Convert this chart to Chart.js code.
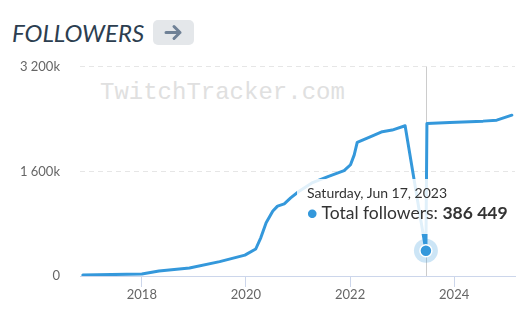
<!DOCTYPE html>
<html>
<head>
<meta charset="utf-8">
<script src="https://cdn.jsdelivr.net/npm/chart.js@4/dist/chart.umd.min.js"></script>
<style>
  html, body { margin: 0; padding: 0; background: #fff; }
  body { width: 530px; height: 313px; position: relative; overflow: hidden; font-family: Lato, sans-serif; }
  .title { position: absolute; left: 12px; top: 19px; font-size: 24px; line-height: 1.2; font-style: italic; color: #2c3e50; }
  .more-btn { position: absolute; left: 153px; top: 20px; width: 41px; height: 25px; border-radius: 5px; background: #e4e7ea; }
  .more-btn svg { position: absolute; left: 11px; top: 4px; }
  .chart-wrap { position: absolute; left: 0; top: 39px; width: 530px; height: 274px; }
  .watermark { position: absolute; left: 100px; top: 42px; font-family: "Liberation Mono", monospace; font-size: 24px; line-height: 24px; color: #e0e0e0; white-space: nowrap; }
  #followersChart { position: relative; }
  #tip { position: absolute; opacity: 0; pointer-events: none; background: rgba(255,255,255,0.85); padding: 5px 10px 10px 10px; color: #333; white-space: nowrap; }
  #tip .t { font-size: 14px; line-height: 18px; }
  #tip .b { font-size: 17.5px; line-height: 22px; }
</style>
</head>
<body>
  <div class="title">FOLLOWERS</div>
  <div class="more-btn">
    <svg width="19" height="17" viewBox="0 0 19 17">
      <path d="M2 8.5 H16 M10 2.5 L16 8.5 L10 14.5" fill="none" stroke="#6f8196" stroke-width="3" stroke-linecap="round" stroke-linejoin="round"/>
    </svg>
  </div>
  <div class="chart-wrap">
    <div class="watermark">TwitchTracker.com</div>
    <canvas id="followersChart" width="530" height="274"></canvas>
    <div id="tip"></div>
  </div>

<script>
// followers over time
const dates = [
  '2016-11-13', '2017-06-01', '2018-01-01', '2018-05-01', '2018-12-01', '2019-07-01', '2019-12-25',
  '2020-03-10', '2020-04-15', '2020-05-22', '2020-07-08', '2020-08-10', '2020-09-26', '2020-11-10',
  '2021-01-08', '2021-04-08', '2021-08-03', '2021-11-20', '2022-01-04', '2022-01-30', '2022-02-20',
  '2022-05-26', '2022-08-15', '2022-10-23', '2023-01-22', '2023-06-17', '2023-06-24', '2023-12-01',
  '2024-07-22', '2024-10-26', '2025-02-09'
];
const followers = [
  15000, 22000, 30000, 75000, 122000, 220000, 320000,
  413000, 588000, 816000, 993000, 1069000, 1104000, 1195000,
  1297000, 1423000, 1524000, 1611000, 1702000, 1853000, 2044000,
  2131000, 2207000, 2232000, 2298000, 386449, 2333000, 2348000,
  2369000, 2384000, 2460000
];
const yearTicks = [2018, 2020, 2022, 2024];
const yTicks = [0, 1600000, 3200000];
const xMin = '2016-10-24';
const xMax = '2025-03-03';
const highlightDate = '2023-06-17';

const lineColor = '#3498db';

function fmtNum(v) {
  return String(v).replace(/\B(?=(\d{3})+(?!\d))/g, ' ');
}

function fmtDate(ms) {
  return new Date(ms).toLocaleDateString('en-US', {
    timeZone: 'UTC', weekday: 'long', month: 'short', day: 'numeric', year: 'numeric'
  });
}

function externalTooltip(context) {
  const { chart, tooltip } = context;
  const el = document.getElementById('tip');
  if (tooltip.opacity === 0 || !tooltip.dataPoints) {
    el.style.opacity = 0;
    return;
  }
  const pt = tooltip.dataPoints[0];
  el.innerHTML = '<div class="t">' + fmtDate(pt.parsed.x) + '</div>' +
    '<div class="b"><span style="color:' + lineColor + '">\u25CF</span> Total followers: <b>' + fmtNum(pt.parsed.y) + '</b></div>';
  el.style.opacity = 1;
  const w = el.offsetWidth, h = el.offsetHeight;
  const left = Math.min(tooltip.caretX - w / 2, chart.width - w - 12);
  el.style.left = left + 'px';
  el.style.top = (tooltip.caretY - h - 17) + 'px';
}

// crosshair + halo behind the hovered point
const hoverMarks = {
  id: 'hoverMarks',
  beforeDatasetsDraw(chart) {
    const act = chart.getActiveElements();
    if (!act.length) return;
    const { ctx, chartArea } = chart;
    const p = act[0].element;
    ctx.save();
    ctx.strokeStyle = '#cccccc';
    ctx.lineWidth = 1;
    const cx = Math.round(p.x) + 0.5;
    ctx.beginPath();
    ctx.moveTo(cx, chartArea.top);
    ctx.lineTo(cx, chartArea.bottom);
    ctx.stroke();
    ctx.fillStyle = 'rgba(52,152,219,0.25)';
    ctx.beginPath();
    ctx.arc(p.x, p.y, 12, 0, Math.PI * 2);
    ctx.fill();
    ctx.restore();
  }
};

const points = dates.map((d, i) => ({ x: Date.parse(d), y: followers[i] }));

const chart = new Chart(document.getElementById('followersChart'), {
  type: 'line',
  data: {
    datasets: [{
      label: 'Total followers',
      data: points,
      borderColor: lineColor,
      borderWidth: 3,
      borderJoinStyle: 'round',
      borderCapStyle: 'round',
      tension: 0,
      fill: false,
      pointRadius: 0,
      pointHoverRadius: 6,
      pointHoverBackgroundColor: lineColor,
      pointHoverBorderColor: '#ffffff',
      pointHoverBorderWidth: 1.5
    }]
  },
  options: {
    responsive: false,
    animation: false,
    events: [],
    layout: { padding: { top: 9, right: 15, left: 0, bottom: 0 } },
    plugins: {
      legend: { display: false },
      tooltip: { enabled: false, external: externalTooltip }
    },
    scales: {
      x: {
        type: 'linear',
        min: Date.parse(xMin),
        max: Date.parse(xMax),
        afterBuildTicks: s => { s.ticks = yearTicks.map(y => ({ value: Date.UTC(y, 0, 1) })); },
        ticks: {
          callback: v => new Date(v).getUTCFullYear(),
          color: '#666666',
          font: { family: 'Lato', size: 13 },
          padding: 0,
          maxRotation: 0
        },
        grid: { drawOnChartArea: false, drawTicks: true, tickLength: 11, color: '#ccd6eb' },
        border: { display: true, color: '#ccd6eb', width: 1 },
        afterFit: s => { s.height = 37; }
      },
      y: {
        min: 0,
        max: 3200000,
        afterBuildTicks: s => { s.ticks = yTicks.map(v => ({ value: v })); },
        ticks: {
          callback: v => v === 0 ? '0' : fmtNum(v / 1000) + 'k',
          color: '#666666',
          font: { family: 'Lato', size: 13 },
          padding: 20
        },
        grid: { color: ctx => ctx.tick && ctx.tick.value === 0 ? 'rgba(0,0,0,0)' : '#e6e6e6', drawTicks: false },
        border: { display: false, dash: [5, 4] },
        afterFit: s => { s.width = 80; }
      }
    }
  },
  plugins: [hoverMarks]
});

const hi = dates.indexOf(highlightDate);
chart.setActiveElements([{ datasetIndex: 0, index: hi }]);
chart.tooltip.setActiveElements([{ datasetIndex: 0, index: hi }], { x: 0, y: 0 });
chart.update();
</script>
</body>
</html>
